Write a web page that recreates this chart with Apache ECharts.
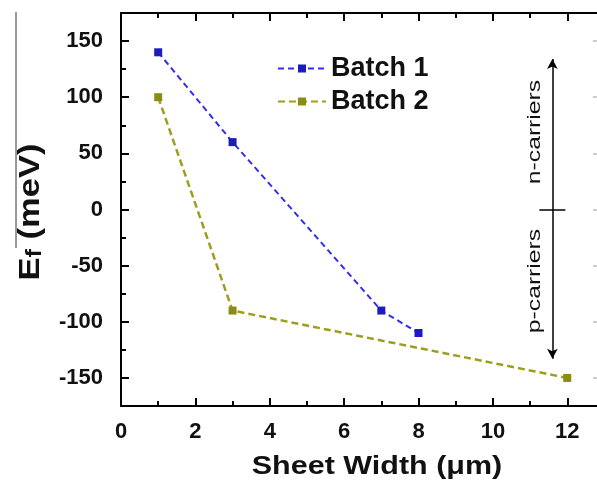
<!DOCTYPE html>
<html>
<head>
<meta charset="utf-8">
<script src="https://cdn.jsdelivr.net/npm/echarts@6/dist/echarts.min.js"></script>
<style>
  html, body { margin: 0; padding: 0; background: #fff; }
  #chart { width: 597px; height: 484px; }
</style>
</head>
<body>
<div id="chart"></div>
<script>
// sheet width (um) vs Fermi level (meV)
const batch1Width = [1, 3, 7, 8];
const batch1Ef = [140, 60, -90, -110];
const batch2Width = [1, 3, 12];
const batch2Ef = [100, -90, -150];

const xMajor = [0, 2, 4, 6, 8, 10, 12];
const xMinor = [1, 3, 5, 7, 9, 11];
const yMajor = [-150, -100, -50, 0, 50, 100, 150];
const yMinor = [-175, -125, -75, -25, 25, 75, 125, 175];

const FONT = "Liberation Sans, Arial, sans-serif";
const X_MAX = 12.8;
const pairs = (xs, ys) => xs.map((x, i) => [x, ys[i]]);

const frameAxis = (extra) => Object.assign({
  axisLine: { show: true, onZero: false, lineStyle: { color: "#000", width: 2 } },
  axisLabel: { show: false },
  splitLine: { show: false },
}, extra);
const noLine = { show: false, onZero: false };

const chart = echarts.init(document.getElementById("chart"));
chart.setOption({
  animation: false,
  grid: { left: 121, top: 13, right: 0, bottom: 78 },
  xAxis: [
    frameAxis({
      type: "value", min: 0, max: X_MAX, interval: 1, position: "bottom",
      axisTick: { inside: true, length: 8, customValues: xMajor, lineStyle: { color: "#000", width: 2 } },
      axisLabel: {
        show: true, customValues: xMajor, margin: 15,
        color: "#111", fontSize: 22, fontWeight: "bold", fontFamily: FONT,
      },
    }),
    frameAxis({
      type: "value", min: 0, max: X_MAX, interval: 1, position: "bottom",
      axisLine: noLine,
      axisTick: { inside: true, length: 5, customValues: xMinor, lineStyle: { color: "#000", width: 2 } },
    }),
    frameAxis({
      type: "value", min: 0, max: X_MAX, interval: 1, position: "top",
      axisTick: { inside: true, length: 8, customValues: xMajor, lineStyle: { color: "#000", width: 2 } },
    }),
    frameAxis({
      type: "value", min: 0, max: X_MAX, interval: 1, position: "top",
      axisLine: noLine,
      axisTick: { inside: true, length: 5, customValues: xMinor, lineStyle: { color: "#000", width: 2 } },
    }),
  ],
  yAxis: [
    frameAxis({
      type: "value", min: -175, max: 175, interval: 25, position: "left",
      axisTick: { inside: true, length: 8, customValues: yMajor, lineStyle: { color: "#000", width: 2 } },
      axisLabel: {
        show: true, customValues: yMajor, margin: 18,
        color: "#111", fontSize: 22, fontWeight: "bold", fontFamily: FONT,
      },
    }),
    frameAxis({
      type: "value", min: -175, max: 175, interval: 25, position: "left",
      axisLine: noLine,
      axisTick: { inside: true, length: 5, customValues: yMinor, lineStyle: { color: "#000", width: 2 } },
    }),
    frameAxis({
      type: "value", min: -175, max: 175, interval: 25, position: "right",
      axisLine: noLine,
      axisTick: { inside: true, length: 4, customValues: yMajor, lineStyle: { color: "#bbb", width: 1.5 } },
    }),
  ],
  legend: {
    data: ["Batch 1", "Batch 2"],
    orient: "vertical", left: 272, top: 50,
    itemWidth: 48, itemHeight: 10, itemGap: 6,
    textStyle: { fontSize: 27, fontWeight: "bold", fontFamily: FONT, color: "#111" },
  },
  series: [
    {
      name: "Batch 1", type: "line", data: pairs(batch1Width, batch1Ef),
      symbol: "rect", symbolSize: 8,
      itemStyle: { color: "#1c1cbc" },
      lineStyle: { color: "#2e2ef0", width: 2, type: [6, 4] },
    },
    {
      name: "Batch 2", type: "line", data: pairs(batch2Width, batch2Ef),
      symbol: "rect", symbolSize: 8,
      itemStyle: { color: "#8c8c14" },
      lineStyle: { color: "#9e9e1e", width: 2.5, type: [7, 4] },
    },
    {
      name: "carriers", type: "line", data: [], silent: true,
      markLine: {
        silent: true, animation: false,
        label: { show: false },
        lineStyle: { color: "#000", width: 1.5, type: "solid" },
        symbol: ["arrow", "arrow"], symbolSize: [8, 10],
        data: [
          [{ coord: [11.6, 134] }, { coord: [11.6, -133] }],
          [{ coord: [11.25, 0], symbol: "none" }, { coord: [11.95, 0], symbol: "none" }],
        ],
      },
    },
  ],
  graphic: [
    {
      type: "line", silent: true,
      shape: { x1: 16, y1: 12, x2: 16, y2: 248 },
      style: { stroke: "#333", lineWidth: 1 },
    },
    {
      type: "text", x: 31, y: 212, rotation: Math.PI / 2, scaleX: 1.15,
      style: {
        text: "{e|E}{f|f}{u| (meV)}", align: "center", verticalAlign: "middle",
        fill: "#111",
        rich: {
          e: { fontSize: 30, fontWeight: "bold", fontFamily: FONT, verticalAlign: "bottom" },
          f: { fontSize: 22, fontWeight: "bold", fontFamily: FONT, verticalAlign: "bottom" },
          u: { fontSize: 30, fontWeight: "bold", fontFamily: FONT, verticalAlign: "bottom" },
        },
      },
    },
    {
      type: "text", x: 377, y: 467, scaleX: 1.22,
      style: {
        text: "Sheet Width (\u03bcm)", align: "center", verticalAlign: "middle",
        fill: "#111", fontSize: 25, fontWeight: "bold", fontFamily: FONT,
      },
    },
    {
      type: "text", x: 535, y: 132, rotation: Math.PI / 2, scaleX: 1.3,
      style: {
        text: "n-carriers", align: "center", verticalAlign: "middle",
        fill: "#111", fontSize: 19, fontFamily: FONT,
      },
    },
    {
      type: "text", x: 535, y: 281, rotation: Math.PI / 2, scaleX: 1.3,
      style: {
        text: "p-carriers", align: "center", verticalAlign: "middle",
        fill: "#111", fontSize: 19, fontFamily: FONT,
      },
    },
  ],
});
window.addEventListener("resize", () => chart.resize());
</script>
</body>
</html>
